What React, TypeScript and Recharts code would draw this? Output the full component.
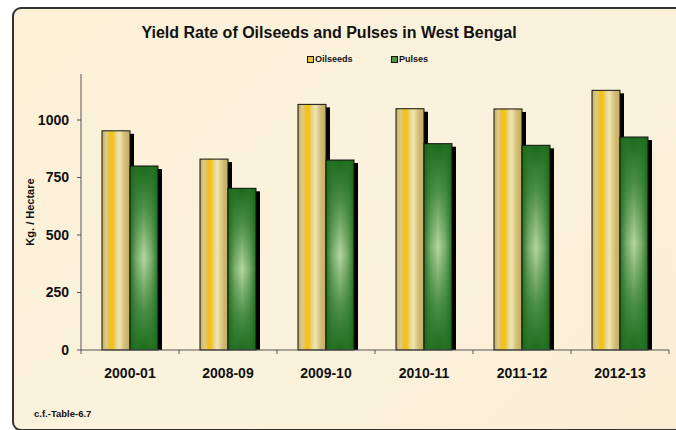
import React from 'react';
import { BarChart, Bar, XAxis, YAxis } from 'recharts';

const years = ['2000-01', '2008-09', '2009-10', '2010-11', '2011-12', '2012-13'];
const oilseeds = [953, 830, 1068, 1049, 1048, 1129];
const pulses = [800, 703, 826, 897, 890, 926];
const yTicks = [0, 250, 500, 750, 1000];

const data = years.map((year, i) => ({ year, oilseeds: oilseeds[i], pulses: pulses[i] }));

const FONT = '"Liberation Sans", Arial, sans-serif';
const PLOT_LEFT = 81;
const PLOT_RIGHT = 669;
const PLOT_TOP = 74;
const PLOT_BOTTOM = 350;
const X_AXIS_H = 30;
const BAND = (PLOT_RIGHT - PLOT_LEFT) / years.length;

const OilShape = (props: any) => {
  const { x, y, width, height } = props;
  return (
    <g>
      <rect x={x + 4} y={y + 3} width={width} height={Math.max(height - 3, 0)} fill="#000" />
      <rect x={x} y={y} width={width} height={height} fill="url(#oilGrad)" stroke="#111" strokeWidth={1} />
    </g>
  );
};

const PulseShape = (props: any) => {
  const { x, y, width, height } = props;
  return (
    <g>
      <rect x={x + 4} y={y + 3} width={width} height={Math.max(height - 3, 0)} fill="#000" />
      <rect x={x} y={y} width={width} height={height} fill="url(#pulseGradV)" />
      <rect x={x} y={y} width={width} height={height} fill="url(#pulseGradH)" stroke="#111" strokeWidth={1} />
    </g>
  );
};

const XTick = (props: any) => {
  const { x, payload, index } = props;
  return (
    <g>
      {index === 0 && <line x1={x - BAND / 2} x2={x - BAND / 2} y1={PLOT_BOTTOM} y2={PLOT_BOTTOM + 4} stroke="#555" />}
      <line x1={x + BAND / 2} x2={x + BAND / 2} y1={PLOT_BOTTOM} y2={PLOT_BOTTOM + 4} stroke="#555" />
      <text x={x} y={PLOT_BOTTOM + 28} textAnchor="middle" fontFamily={FONT} fontWeight="bold" fontSize={14} fill="#111">
        {payload.value}
      </text>
    </g>
  );
};

export default function App() {
  return (
    <div style={{ position: 'absolute', left: 0, top: 0, width: 676, height: 430, background: '#fff', overflow: 'hidden' }}>
      <div
        style={{
          position: 'absolute', left: 12, top: 7, width: 676, height: 420,
          border: '2px solid #333', borderRadius: 9, background: 'linear-gradient(135deg, #fcf0d6 0%, #fbf2dd 50%, #f9eed4 100%)',
        }}
      />
      <div style={{ position: 'absolute', left: 0, top: 0 }}>
        <BarChart
          width={676}
          height={430}
          data={data}
          margin={{ top: PLOT_TOP, right: 676 - PLOT_RIGHT, bottom: 430 - PLOT_BOTTOM - X_AXIS_H, left: 0 }}
          barCategoryGap={21}
          barGap={0}
        >
          <defs>
            <linearGradient id="oilGrad" x1="0" y1="0" x2="1" y2="0">
              <stop offset="0%" stopColor="#c3ac62" />
              <stop offset="15%" stopColor="#dccb8a" />
              <stop offset="30%" stopColor="#f2c020" />
              <stop offset="40%" stopColor="#f5c414" />
              <stop offset="50%" stopColor="#e6d592" />
              <stop offset="62%" stopColor="#f0e5b2" />
              <stop offset="80%" stopColor="#d3bf78" />
              <stop offset="100%" stopColor="#c2aa60" />
            </linearGradient>
            <linearGradient id="pulseGradV" x1="0" y1="0" x2="0" y2="1">
              <stop offset="0%" stopColor="#1b681b" />
              <stop offset="22%" stopColor="#4f904a" />
              <stop offset="50%" stopColor="#b7d6a2" />
              <stop offset="78%" stopColor="#4f904a" />
              <stop offset="100%" stopColor="#1d6b1d" />
            </linearGradient>
            <linearGradient id="pulseGradH" x1="0" y1="0" x2="1" y2="0">
              <stop offset="0%" stopColor="#1a661a" stopOpacity={0.9} />
              <stop offset="25%" stopColor="#2a7a2a" stopOpacity={0.4} />
              <stop offset="50%" stopColor="#2a7a2a" stopOpacity={0} />
              <stop offset="75%" stopColor="#2a7a2a" stopOpacity={0.4} />
              <stop offset="100%" stopColor="#1a661a" stopOpacity={0.9} />
            </linearGradient>
          </defs>
          <XAxis
            dataKey="year"
            height={X_AXIS_H}
            stroke="#555"
            tickLine={false}
            tick={<XTick />}
            interval={0}
          />
          <YAxis
            width={PLOT_LEFT}
            domain={[0, 1200]}
            ticks={yTicks}
            stroke="#555"
            tickSize={4}
            tickMargin={8}
            tick={{ fontFamily: FONT, fontWeight: 'bold', fontSize: 14, fill: '#111' }}
            label={{
              value: 'Kg. / Hectare',
              position: 'insideLeft',
              content: () => (
                <text
                  x={30}
                  y={212}
                  transform="rotate(-90 30 212)"
                  textAnchor="middle"
                  dominantBaseline="central"
                  fontFamily={FONT}
                  fontWeight="bold"
                  fontSize={11}
                  fill="#111"
                >
                  Kg. / Hectare
                </text>
              ),
            }}
          />
          <Bar dataKey="oilseeds" name="Oilseeds" shape={<OilShape />} isAnimationActive={false} />
          <Bar dataKey="pulses" name="Pulses" shape={<PulseShape />} isAnimationActive={false} />
        </BarChart>
      </div>
      <div
        style={{
          position: 'absolute', left: 129, top: 24, width: 400, textAlign: 'center',
          fontFamily: FONT, fontWeight: 'bold', fontSize: 16, color: '#111', whiteSpace: 'nowrap',
        }}
      >
        Yield Rate of Oilseeds and Pulses in West Bengal
      </div>
      <div style={{ position: 'absolute', left: 307, top: 54, fontFamily: FONT, fontWeight: 'bold', fontSize: 9, color: '#111', display: 'flex', alignItems: 'center' }}>
        <span style={{ display: 'inline-block', width: 5, height: 5, border: '1px solid #111', background: '#e6c530', marginRight: 1 }} />
        Oilseeds
      </div>
      <div style={{ position: 'absolute', left: 391, top: 54, fontFamily: FONT, fontWeight: 'bold', fontSize: 9, color: '#111', display: 'flex', alignItems: 'center' }}>
        <span style={{ display: 'inline-block', width: 5, height: 5, border: '1px solid #111', background: '#4f9a3f', marginRight: 1 }} />
        Pulses
      </div>
      <div
        style={{
          position: 'absolute', left: 34, top: 408, fontFamily: FONT,
          fontWeight: 'bold', fontSize: 9.5, color: '#111', whiteSpace: 'nowrap',
        }}
      >
        c.f.-Table-6.7
      </div>
    </div>
  );
}
